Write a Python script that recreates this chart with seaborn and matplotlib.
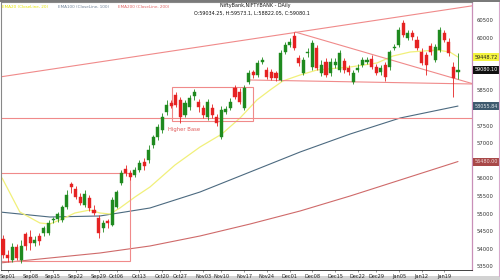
import numpy as np
import pandas as pd
import matplotlib
matplotlib.use("Agg")
import matplotlib.pyplot as plt
import matplotlib.transforms as mtransforms
from matplotlib.patches import Rectangle
import seaborn as sns

# ---------------- data ----------------
opens = [54281, 53826, 53684, 54053, 53684, 54422, 54337, 54167, 54366, 54451,
         54451, 54820, 54848, 54820, 55189, 55842, 55700, 55473, 55246, 55445,
         55104, 54877, 54593, 54792, 54678, 55189, 55871, 56268, 56155, 56098,
         56240, 56467, 56524, 56950, 57177, 57376, 57887, 58143, 58370, 58228,
         57802, 58029, 58342, 58171, 58001, 57745, 58001, 57745, 57177, 57887,
         58001, 58569, 58455, 58001, 58739, 59023, 58938, 59307, 59080, 59023,
         58995, 58796, 59591, 59790, 60046, 59421, 58995, 59563, 59165, 59705,
         58995, 59307, 58995, 59222, 59080, 59336, 59137, 58739, 59080, 59222,
         59307, 59392, 59165, 59023, 59222, 59165, 59705, 59790, 60415, 59989,
         60131, 59932, 59591, 59506, 59762, 59364, 59648, 60131, 59875, 59165,
         59034.25]
highs = [54394, 53968, 54167, 54138, 54252, 54479, 54536, 54366, 54451, 54650,
         54820, 54905, 55047, 55246, 55672, 55899, 55786, 55587, 55672, 55530,
         55246, 54962, 54820, 54848, 55473, 55672, 56240, 56382, 56240, 56325,
         56524, 56581, 56950, 57234, 57546, 57859, 58228, 58228, 58455, 58313,
         58228, 58370, 58540, 58256, 58086, 58256, 58114, 57830, 58058, 58058,
         58285, 58654, 58569, 58654, 59080, 59080, 59364, 59449, 59165, 59108,
         59052, 59648, 59875, 59989, 60159, 59506, 59449, 59705, 59932, 59790,
         59364, 59421, 59421, 59421, 59648, 59421, 59222, 59080, 59250, 59449,
         59449, 59506, 59250, 59222, 59307, 59648, 59818, 60301, 60500, 60216,
         60216, 60046, 59705, 59591, 59847, 59818, 60301, 60216, 59989, 59307,
         59573.1]
lows = [53741, 53627, 53627, 53684, 53599, 53968, 53968, 54082, 54110, 54366,
        54394, 54735, 54763, 54763, 55132, 55587, 55416, 55246, 55189, 55076,
        54962, 54309, 54479, 54593, 54650, 55161, 55814, 56070, 55956, 56041,
        56183, 56240, 56439, 56865, 57092, 57291, 57802, 58001, 58029, 57575,
        57745, 57944, 58228, 57887, 57717, 57660, 57717, 57490, 57120, 57830,
        57944, 58256, 58114, 57944, 58682, 58853, 58881, 59250, 58824, 58796,
        58768, 58768, 59534, 59733, 59648, 59194, 58938, 59449, 59080, 59080,
        58910, 58881, 58910, 59137, 59023, 58995, 58938, 58682, 59023, 59165,
        59250, 59108, 58938, 58938, 58768, 59080, 59648, 59733, 60017, 59932,
        59932, 59648, 59222, 58938, 59506, 59307, 59591, 59875, 59478, 58313,
        58822.05]
closes = [53826, 53741, 54053, 53741, 54082, 54082, 54167, 54252, 54224, 54593,
          54735, 54848, 54990, 55189, 55530, 55757, 55473, 55303, 55558, 55161,
          55019, 54451, 54735, 54735, 55388, 55615, 56155, 56155, 56041, 56240,
          56439, 56354, 56808, 57177, 57461, 57745, 58086, 58058, 58086, 57745,
          58143, 58285, 58455, 58029, 57802, 58171, 57802, 57575, 57944, 57972,
          58171, 58313, 58171, 58569, 58995, 58938, 59279, 59364, 58881, 58853,
          58853, 59563, 59790, 59875, 59705, 59279, 59364, 59591, 59847, 59137,
          59222, 58938, 59307, 59307, 59563, 59080, 59023, 58995, 59137, 59364,
          59364, 59165, 58995, 59137, 58881, 59591, 59733, 60216, 60074, 60131,
          60017, 59705, 59279, 59222, 59591, 59733, 60216, 59932, 59563, 58853,
          59080.1]

holidays = ["2025-10-02", "2025-10-22", "2025-11-05", "2025-12-25"]
start_date, end_date = "2025-08-29", "2026-01-22"

tick_dates = ["2025-09-01", "2025-09-08", "2025-09-15", "2025-09-22", "2025-09-29",
              "2025-10-06", "2025-10-13", "2025-10-20", "2025-10-27", "2025-11-03",
              "2025-11-10", "2025-11-17", "2025-11-24", "2025-12-01", "2025-12-08",
              "2025-12-15", "2025-12-22", "2025-12-29", "2026-01-05", "2026-01-12",
              "2026-01-19"]
tick_labels = ["Sep01", "Sep08", "Sep15", "Sep22", "Sep29", "Oct06", "Oct13", "Oct20",
               "Oct27", "Nov03", "Nov10", "Nov17", "Nov24", "Dec01", "Dec08", "Dec15",
               "Dec22", "Dec29", "Jan05", "Jan12", "Jan19"]

ema20_x = [-0.2, 3.7, 8.1, 10.3, 13.0, 15.8, 19.1, 21.3, 23.5, 25.7, 29.0, 32.3, 37.8,
           43.3, 48.1, 52.1, 55.8, 58.7, 61.5, 65.3, 69.0, 76.3, 82.2, 85.7, 89.5,
           95.4, 98.2, 100]
ema20_y = [56013, 55047, 54735, 54706, 54848, 55019, 55104, 55019, 54990, 55161, 55473,
           55757, 56382, 56893, 57262, 57717, 58228, 58512, 58768, 58938, 59080, 59165,
           59279, 59478, 59591, 59648, 59591, 59448.72]
ema100_x = [-0.7, 10.3, 21.3, 32.3, 43.3, 54.3, 65.3, 76.3, 87.3, 100]
ema100_y = [55047, 54905, 54934, 55161, 55615, 56183, 56751, 57262, 57717, 58055.84]
ema200_x = [-0.7, 10.3, 21.3, 32.3, 43.3, 54.3, 65.3, 76.3, 87.3, 100]
ema200_y = [53599, 53741, 53883, 54082, 54366, 54706, 55076, 55502, 55956, 56480.00]

y_ticks = [53500, 54000, 54500, 55000, 55500, 56000, 56500, 57000, 57500,
           58000, 58500, 59000, 59500, 60000, 60500]
# tick labels that the reference hides behind the value boxes
hidden_ticks = [59500, 59000, 58000, 56500]

# drawn annotations (index, price)
channel_x, channel_y = [-1, 103.5], [58876, 60910]
hline_y = 57717
support_x, support_y = [54.3, 103.5], [58796, 58682]
triangle_x, triangle_y = [64.2, 103.5], [60159, 58680]
base_box = (37.1, 57632, 54.9, 58597)   # x0, y0, x1, y1
big_box = (-1.0, 53656, 27.9, 56155)

# ---------------- styling ----------------
GREEN = "#1f8a1f"
RED = "#e52222"
LINE = "#f08a8a"

sns.set_theme(style="white")
plt.rcParams["font.family"] = ["DejaVu Sans"]

fig = plt.figure(figsize=(5, 2.8), dpi=100)
W, H = 500, 280
ax = fig.add_axes([1 / W, 1 - 270 / H, 471 / W, 268 / H])

dates = pd.bdate_range(start_date, end_date)
dates = dates[~dates.isin(pd.to_datetime(holidays))]
df = pd.DataFrame({"date": dates, "open": opens, "high": highs,
                   "low": lows, "close": closes})
df["i"] = np.arange(len(df))
up = df["close"] >= df["open"]
cols = np.where(up, GREEN, RED)

# EMAs
sns.lineplot(x=ema200_x, y=ema200_y, ax=ax, color="#cf6a6a", lw=0.8, sort=False, zorder=2)
sns.lineplot(x=ema100_x, y=ema100_y, ax=ax, color="#4c6a80", lw=0.8, sort=False, zorder=2)
sns.lineplot(x=ema20_x, y=ema20_y, ax=ax, color="#f1f07a", lw=0.9, sort=False, zorder=2)

# annotation lines / boxes
ax.plot(channel_x, channel_y, color=LINE, lw=0.8, zorder=2)
ax.axhline(hline_y, color=LINE, lw=0.8, zorder=2)
ax.plot(support_x, support_y, color=LINE, lw=0.8, zorder=2)
ax.plot(triangle_x, triangle_y, color=LINE, lw=0.8, zorder=2)
for (x0, y0, x1, y1) in (base_box, big_box):
    ax.add_patch(Rectangle((x0, y0), x1 - x0, y1 - y0, fill=False,
                           ec=LINE, lw=0.8, zorder=2))
ax.text(36.3, 57376, "Higher Base", color="#e05a5a", fontsize=3.8,
        ha="left", va="center", zorder=5)

# candles
ax.vlines(df["i"], df["low"], df["high"], colors=cols, lw=0.6, zorder=3)
body = (df["close"] - df["open"]).abs().clip(lower=12)
ax.bar(df["i"], body, bottom=np.minimum(df["open"], df["close"]), width=0.68,
       color=cols, edgecolor=cols, lw=0.3, zorder=4)

ax.set_xlim(-0.44, 103.08)
ax.set_ylim(53400, 61011)

# x ticks
pos = [int(np.where(df["date"] == pd.Timestamp(d))[0][0]) for d in tick_dates]
ax.set_xticks(pos)
ax.set_xticklabels(tick_labels, fontsize=3.6, color="#222222")
ax.tick_params(axis="x", length=1.5, width=0.4, pad=1.2, bottom=True, color="#444444")

# y ticks on right
ax.yaxis.tick_right()
ax.set_yticks(y_ticks)
ax.set_yticklabels(["" if v in hidden_ticks else str(v) for v in y_ticks],
                   fontsize=3.8, color="#333333")
ax.tick_params(axis="y", length=0, pad=3.5)

for s in ("left", "top"):
    ax.spines[s].set_color("#888888")
    ax.spines[s].set_linewidth(0.8)
ax.spines["bottom"].set_color("#222222")
ax.spines["bottom"].set_linewidth(0.6)
ax.spines["right"].set_color("#c98fb8")
ax.spines["right"].set_linewidth(0.9)

# value boxes on price axis
trans = mtransforms.blended_transform_factory(ax.transAxes, ax.transData)
for val, fc, tc in ((ema20_y[-1], "#f4f440", "#222222"),
                    (closes[-1], "#111111", "#ffffff"),
                    (ema100_y[-1], "#3e5a6e", "#dfe6ea"),
                    (ema200_y[-1], "#a84848", "#f0d8d8")):
    ax.text(1.006, val, f"{val:.2f}", transform=trans, fontsize=3.5, color=tc,
            ha="left", va="center", zorder=6, clip_on=False,
            bbox=dict(boxstyle="square,pad=0.3", fc=fc, ec="none"))

# header texts
fig.text(255 / W, 1 - 5 / H, "NiftyBank,NIFTYBANK - DAily", fontsize=3.5,
         ha="center", va="center", color="#111111")
fig.text(252 / W, 1 - 13 / H, "O:59034.25, H:59573.1, L:58822.05, C:59080.1",
         fontsize=3.5, ha="center", va="center", color="#111111")
for txt, c, xp in (("EMA20 (CloseLine, 20)", "#e6e600", 2),
                   ("EMA100 (CloseLine, 100)", "#6f8298", 58),
                   ("EMA200 (CloseLine, 200)", "#e06464", 118)):
    fig.text(xp / W, 1 - 7 / H, txt, fontsize=3.0, ha="left", va="center", color=c)

# frame decorations
fig.add_artist(Rectangle((0, 0), 1, 4 / H, transform=fig.transFigure,
                         fc="#d2d2d2", ec="none", zorder=0))
fig.add_artist(Rectangle((0, 1 - 1.5 / H), 1, 1.5 / H, transform=fig.transFigure,
                         fc="#7a7a7a", ec="none"))
fig.add_artist(plt.Line2D([498.5 / W, 498.5 / W], [4 / H, 1 - 1.5 / H],
                          transform=fig.transFigure, color="#d8a8cc", lw=0.8))

fig.savefig("out.png", dpi=100)
